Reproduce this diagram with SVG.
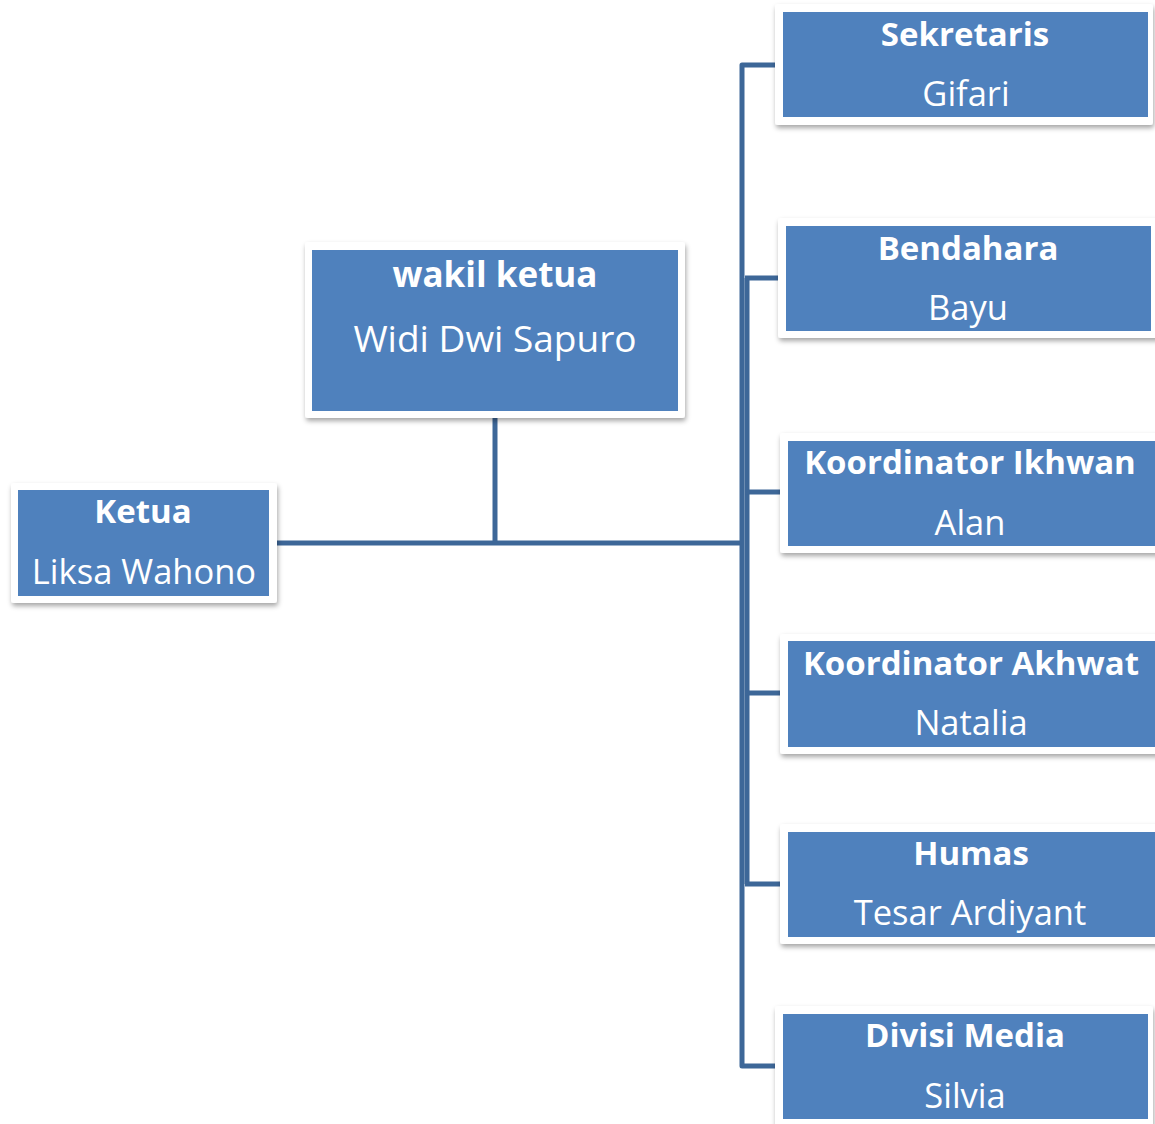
<svg xmlns="http://www.w3.org/2000/svg" width="1155" height="1124" viewBox="0 0 1155 1124">
<defs>
<filter id="sh" x="-10%" y="-10%" width="120%" height="130%">
<feDropShadow dx="1" dy="3" stdDeviation="2.5" flood-color="#000" flood-opacity="0.35"/>
</filter>
<style>
.frame{fill:#fff;filter:url(#sh)}
.box{fill:#4F81BD}
.t{font-family:"Open Sans","DejaVu Sans",sans-serif;fill:#fff;text-anchor:middle}
.b{font-weight:bold;font-size:33px}
.r{font-size:34.5px}
.ln{fill:none;stroke:#3D6798;stroke-width:5;stroke-linejoin:round}
</style>
</defs>
<rect width="1155" height="1124" fill="#fff"/>
<g id="connectors">
<path class="ln" d="M277,543 H742"/>
<path class="ln" d="M495,418 V543"/>
<path class="ln" d="M776,65 H742 V1066 H776"/>
<path class="ln" d="M747,278 V884"/>
<path class="ln" d="M745,278 H780"/>
<path class="ln" d="M745,492 H782"/>
<path class="ln" d="M745,693 H782"/>
<path class="ln" d="M745,884 H782"/>
</g>
<g id="ketua">
<rect class="frame" x="11" y="483" width="266" height="120" rx="3"/>
<rect class="box" x="18" y="490" width="251" height="106"/>
<text class="t b" x="143" y="523">Ketua</text>
<text class="t r" x="144" y="584">Liksa Wahono</text>
</g>
<g id="wakil">
<rect class="frame" x="305" y="242" width="380" height="176" rx="3"/>
<rect class="box" x="312" y="250" width="366" height="161"/>
<text class="t b" x="495" y="287" style="font-size:35px">wakil ketua</text>
<text class="t r" x="495" y="352" style="font-size:37px">Widi Dwi Sapuro</text>
</g>
<g id="sekretaris">
<rect class="frame" x="775" y="4" width="378" height="121" rx="3"/>
<rect class="box" x="783" y="12" width="365" height="105"/>
<text class="t b" x="965" y="46">Sekretaris</text>
<text class="t r" x="966" y="106">Gifari</text>
</g>
<g id="bendahara">
<rect class="frame" x="778" y="218" width="385" height="120" rx="3"/>
<rect class="box" x="786" y="226" width="365" height="105"/>
<text class="t b" x="968" y="260">Bendahara</text>
<text class="t r" x="968" y="320">Bayu</text>
</g>
<g id="ikhwan">
<rect class="frame" x="780" y="433" width="385" height="120" rx="3"/>
<rect class="box" x="788" y="441" width="375" height="105"/>
<text class="t b" x="970" y="474">Koordinator Ikhwan</text>
<text class="t r" x="970" y="535">Alan</text>
</g>
<g id="akhwat">
<rect class="frame" x="780" y="634" width="385" height="120" rx="3"/>
<rect class="box" x="788" y="641" width="375" height="106"/>
<text class="t b" x="971" y="675">Koordinator Akhwat</text>
<text class="t r" x="971" y="735">Natalia</text>
</g>
<g id="humas">
<rect class="frame" x="780" y="824" width="385" height="120" rx="3"/>
<rect class="box" x="788" y="832" width="375" height="105"/>
<text class="t b" x="971" y="865">Humas</text>
<text class="t r" x="970" y="925">Tesar Ardiyant</text>
</g>
<g id="media">
<rect class="frame" x="775" y="1006" width="378" height="125" rx="3"/>
<rect class="box" x="783" y="1014" width="365" height="105"/>
<text class="t b" x="965" y="1047">Divisi Media</text>
<text class="t r" x="965" y="1108">Silvia</text>
</g>
</svg>
